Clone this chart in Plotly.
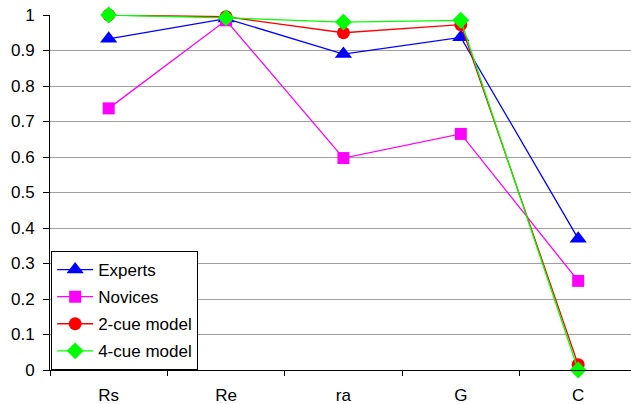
import plotly.graph_objects as go

categories = ["Rs", "Re", "ra", "G", "C"]
experts = [0.933, 0.99, 0.89, 0.937, 0.37]
novices = [0.737, 0.985, 0.597, 0.665, 0.251]
cue2 = [1.0, 0.995, 0.95, 0.973, 0.015]
cue4 = [1.0, 0.992, 0.98, 0.985, 0.0]
y_ticks = [0, 0.1, 0.2, 0.3, 0.4, 0.5, 0.6, 0.7, 0.8, 0.9, 1]
y_tick_labels = ["0", "0.1", "0.2", "0.3", "0.4", "0.5", "0.6", "0.7", "0.8", "0.9", "1"]

series = [
    ("Experts", experts, "#0000FF", "triangle-up", 15),
    ("Novices", novices, "#FF00FF", "square", 12),
    ("2-cue model", cue2, "#FF0000", "circle", 13),
    ("4-cue model", cue4, "#00FF00", "diamond", 13),
]

fig = go.Figure()
for i, (name, vals, color, sym, size) in enumerate(series):
    fig.add_trace(go.Scatter(
        x=categories, y=vals, name=name, mode="lines+markers",
        line=dict(color=color, width=1.3),
        marker=dict(symbol=sym, size=size, color=color, line=dict(width=0)),
        cliponaxis=False, legendgroup=f"g{i}",
    ))

fig.update_layout(
    width=631, height=404,
    margin=dict(l=50, r=0, t=15, b=34, autoexpand=False),
    paper_bgcolor="white", plot_bgcolor="white",
    font=dict(family="Liberation Sans, Arial", size=17, color="black"),
    showlegend=True,
    legend=dict(
        x=0.002, y=0.0, xanchor="left", yanchor="bottom",
        bordercolor="black", borderwidth=1, bgcolor="white",
        font=dict(size=17), tracegroupgap=2, itemwidth=36,
    ),
    xaxis=dict(
        type="category", range=[-0.5, 4.45], showline=True, linecolor="black",
        linewidth=1, ticks="outside", tickson="boundaries", ticklen=5,
        tickcolor="black", showgrid=False, zeroline=False, automargin=False,
        tickfont=dict(size=17), ticklabelstandoff=10,
    ),
    yaxis=dict(
        range=[0, 1], tickvals=y_ticks, ticktext=y_tick_labels,
        showline=True, linecolor="black", linewidth=1, ticks="outside",
        ticklen=6, tickcolor="black", showgrid=True, gridcolor="#a0a0a0",
        gridwidth=1, zeroline=False, tickfont=dict(size=17), automargin=False,
        ticklabelstandoff=5,
    ),
)

fig.write_html("out.html", config={"displayModeBar": False},
               post_script="document.body.style.margin='0';")
